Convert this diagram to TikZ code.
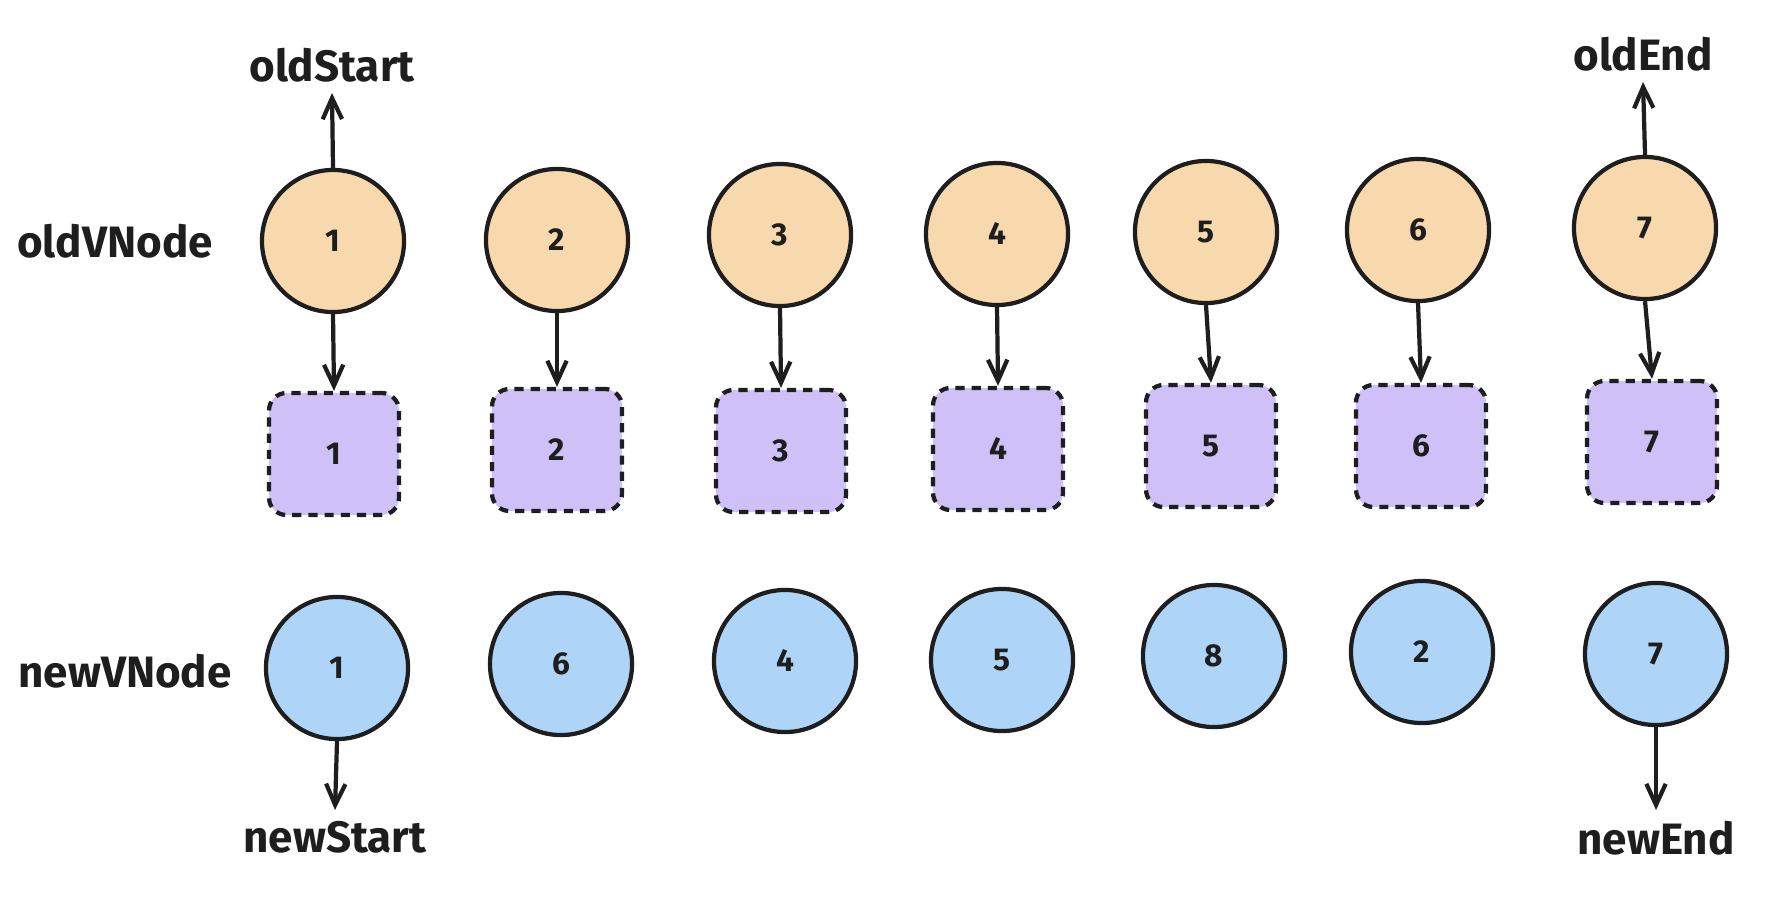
\documentclass[tikz,border=0pt]{standalone}
\usepackage{fontspec}
\setmainfont{Fira Sans}
\usetikzlibrary{arrows.meta}
\definecolor{ink}{HTML}{1E1E1E}
\definecolor{oldfill}{HTML}{F8D9AD}
\definecolor{keyfill}{HTML}{CFC0F7}
\definecolor{newfill}{HTML}{AED5F8}
\tikzset{
  vcircle/.style={circle, draw=ink, line width=1.2pt, minimum size=1.42cm, inner sep=0pt,
    text=ink, font=\fontsize{9}{10}\selectfont\bfseries},
  oldv/.style={vcircle, fill=oldfill},
  newv/.style={vcircle, fill=newfill},
  keybox/.style={rectangle, rounded corners=5pt, draw=ink, line width=1.2pt,
    dash pattern=on 2.6pt off 2pt, fill=keyfill, minimum width=1.3cm, minimum height=1.22cm,
    text=ink, font=\fontsize{9}{10}\selectfont\bfseries},
  tag/.style={text=ink, inner sep=3pt, font=\fontsize{12.5}{15}\selectfont\bfseries},
  link/.style={draw=ink, line width=1.2pt, -{Straight Barb[length=6pt,width=5.5pt]}}
}
\begin{document}
\begin{tikzpicture}[x=0.01cm,y=-0.01cm]
\useasboundingbox (0,0) rectangle (1774,900);
% row labels
\node[tag] (oldrow) at (115,241) {oldVNode};
\node[tag] (newrow) at (125,671) {newVNode};
% old vnodes
\node[oldv] (o1) at (333,241) {1};
\node[oldv] (o2) at (557,240) {2};
\node[oldv] (o3) at (780,235) {3};
\node[oldv] (o4) at (997,234) {4};
\node[oldv] (o5) at (1206,232) {5};
\node[oldv] (o6) at (1418,230) {6};
\node[oldv] (o7) at (1645,228) {7};
% keyed copies
\node[keybox] (k1) at (334,454) {1};
\node[keybox] (k2) at (557,450) {2};
\node[keybox] (k3) at (781,451) {3};
\node[keybox] (k4) at (998,449) {4};
\node[keybox] (k5) at (1211,446) {5};
\node[keybox] (k6) at (1421,446) {6};
\node[keybox] (k7) at (1652,442) {7};
% new vnodes
\node[newv] (n1) at (337,668) {1};
\node[newv] (n2) at (561,664) {6};
\node[newv] (n3) at (785,661) {4};
\node[newv] (n4) at (1002,660) {5};
\node[newv] (n5) at (1214,656) {8};
\node[newv] (n6) at (1422,652) {2};
\node[newv] (n7) at (1656,654) {7};
% pointers
\node[tag, anchor=south] (oldStart) at (332,93) {oldStart};
\node[tag, anchor=south] (oldEnd) at (1643,82) {oldEnd};
\node[tag, anchor=north] (newStart) at (335,810) {newStart};
\node[tag, anchor=north] (newEnd) at (1656,810) {newEnd};

\draw[link] (o1.north) -- (oldStart.south);
\draw[link] (o7.north) -- (oldEnd.south);
\draw[link] (n1.south) -- (newStart.north);
\draw[link] (n7.south) -- (newEnd.north);

\draw[link] (o1.south) -- (k1.north);
\draw[link] (o2.south) -- (k2.north);
\draw[link] (o3.south) -- (k3.north);
\draw[link] (o4.south) -- (k4.north);
\draw[link] (o5.south) -- (k5.north);
\draw[link] (o6.south) -- (k6.north);
\draw[link] (o7.south) -- (k7.north);
\end{tikzpicture}
\end{document}
